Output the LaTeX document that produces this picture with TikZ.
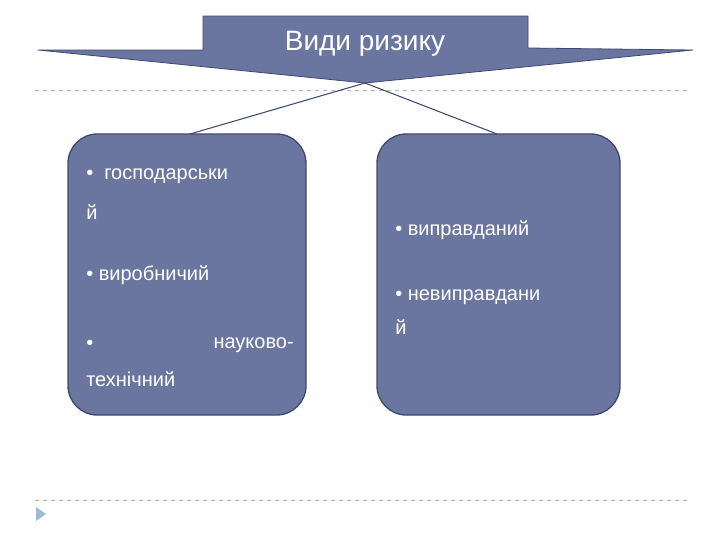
\documentclass[tikz,border=0pt]{standalone}
\usepackage{fontspec}
\setmainfont{Liberation Sans}
\definecolor{boxfill}{HTML}{6B76A0}
\definecolor{boxline}{HTML}{3F4A70}
\begin{document}
\begin{tikzpicture}[x=0.75pt,y=-0.75pt,
  box/.style={draw=boxline,line width=1pt,fill=boxfill,rounded corners=22pt},
  txt/.style={text=white,font=\fontsize{15}{18}\selectfont,anchor=west,inner sep=0pt},
  guide/.style={gray!60,dashed,line width=0.6pt}]
\useasboundingbox (0,0) rectangle (720,540);
\draw[guide] (35,90) -- (690,90);
\draw[guide] (35,500) -- (690,500);
\fill[boxfill!80!cyan!60!white] (36,507) -- (46,514) -- (36,521) -- cycle;
\draw[fill=boxfill,draw=boxline,line width=0.6pt] (38,50) -- (203,50) -- (203,16) -- (528,16) -- (528,48) -- (693,50) -- (365,83) -- cycle;
\node[text=white,font=\fontsize{21}{24}\selectfont,inner sep=0pt] (title) at (365,44) {Види ризику};
\coordinate (tip) at (365,83);
\draw[box] (68,134) rectangle (306,415);
\draw[box] (377,134) rectangle (620,415);
\coordinate (l) at (190,134);
\coordinate (r) at (497,134);
\draw[boxline,line width=0.8pt] (tip) -- (l);
\draw[boxline,line width=0.8pt] (tip) -- (r);
\node[txt] (a1) at (86,176) {•\ \ господарськи};
\node[txt] (a2) at (86,212) {й};
\node[txt] (a3) at (86,275) {• виробничий};
\node[txt] (a4) at (86,345) {•};
\node[txt,anchor=east] (a5) at (294,345) {науково-};
\node[txt] (a6) at (86,379) {технічний};
\node[txt] (b1) at (395,230) {• виправданий};
\node[txt] (b2) at (395,297) {• невиправдани};
\node[txt] (b3) at (395,327) {й};
\end{tikzpicture}
\end{document}
